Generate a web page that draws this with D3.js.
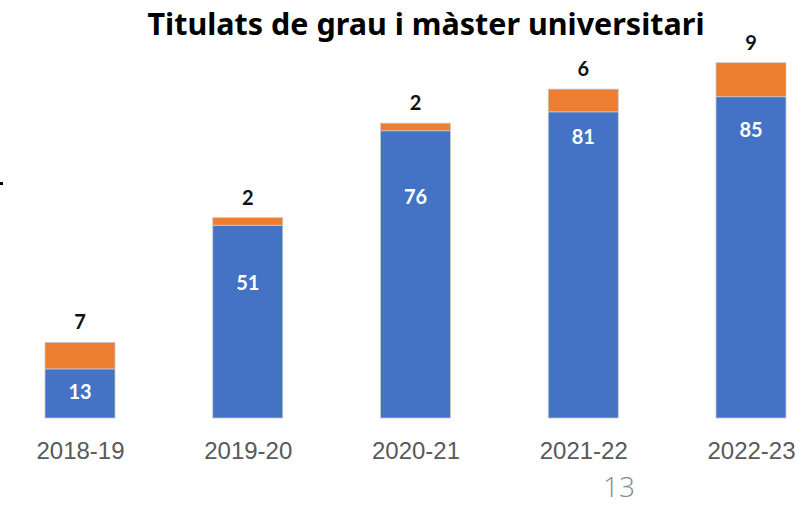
<!DOCTYPE html>
<html>
<head>
<meta charset="utf-8">
<script src="https://cdn.jsdelivr.net/npm/d3@7"></script>
<style>
  body { margin: 0; background: #fff; }
  svg { display: block; }
</style>
</head>
<body>
<div id="chart"></div>
<script>
// data
var courses = ["2018-19", "2019-20", "2020-21", "2021-22", "2022-23"];
var grau = [13, 51, 76, 81, 85];      // blue part
var master = [7, 2, 2, 6, 9];         // orange part
// where the white labels sit inside the blue bars (in value units)
var grauLabelAt = [7, 35.7, 58.5, 74.3, 76.2];

var width = 812, height = 505;
var baseline = 418;

var svg = d3.select("#chart").append("svg")
    .attr("width", width)
    .attr("height", height);

var x = d3.scalePoint()
    .domain(courses)
    .range([80, 751]);
var barW = 70;

// 85 units ~ 321px
var y = d3.scaleLinear()
    .domain([0, 100])
    .range([baseline, baseline - 378]);

var rows = courses.map(function(c, i) {
  return {course: c, grau: grau[i], master: master[i], at: grauLabelAt[i]};
});

// title
svg.append("text")
    .attr("x", 426)
    .attr("y", 35)
    .attr("text-anchor", "middle")
    .attr("textLength", 557)
    .attr("lengthAdjust", "spacingAndGlyphs")
    .style("font-family", "'Noto Sans', sans-serif")
    .style("font-weight", "bold")
    .style("font-size", "30px")
    .style("fill", "#000")
    .text("Titulats de grau i màster universitari");

var g = svg.selectAll("g.bar").data(rows).enter()
    .append("g").attr("class", "bar");

// blue
g.append("rect")
    .attr("x", function(d) { return x(d.course) - barW / 2; })
    .attr("y", function(d) { return y(d.grau); })
    .attr("width", barW)
    .attr("height", function(d) { return y(0) - y(d.grau); })
    .style("fill", "#4472C4")
    .style("stroke", "#c9c9c9")
    .style("stroke-width", 0.8);

// orange
g.append("rect")
    .attr("x", function(d) { return x(d.course) - barW / 2; })
    .attr("y", function(d) { return y(d.grau + d.master); })
    .attr("width", barW)
    .attr("height", function(d) { return y(d.grau) - y(d.grau + d.master); })
    .style("fill", "#ED7D31")
    .style("stroke", "#c9c9c9")
    .style("stroke-width", 0.8);

// labels inside blue
g.append("text")
    .attr("x", function(d) { return x(d.course); })
    .attr("y", function(d) { return y(d.at); })
    .attr("dy", "0.36em")
    .attr("text-anchor", "middle")
    .style("font-family", "Lato, 'Open Sans', sans-serif")
    .style("font-weight", "bold")
    .style("font-size", "20px")
    .style("fill", "#fff")
    .text(function(d) { return d.grau; });

// labels above
g.append("text")
    .attr("x", function(d) { return x(d.course); })
    .attr("y", function(d) { return y(d.grau + d.master) - 13; })
    .attr("text-anchor", "middle")
    .style("font-family", "Lato, 'Open Sans', sans-serif")
    .style("font-weight", "bold")
    .style("font-size", "20px")
    .style("fill", "#111")
    .text(function(d) { return d.master; });

// category axis, no line
var xAxis = svg.append("g")
    .attr("transform", "translate(0," + (baseline + 24) + ")")
    .call(d3.axisBottom(x).tickSize(0).tickPadding(0));
xAxis.select(".domain").remove();
xAxis.selectAll("text")
    .attr("dy", "0.71em")
    .style("font-family", "'Liberation Sans', Arial, sans-serif")
    .style("font-size", "24px")
    .style("fill", "#595959");

// page number
svg.append("text")
    .attr("x", 619)
    .attr("y", 497)
    .attr("text-anchor", "middle")
    .style("font-family", "'Open Sans', sans-serif")
    .style("font-weight", 300)
    .style("font-size", "28px")
    .style("fill", "#8a8a8a")
    .text("13");

// leftover mark at the left edge
svg.append("rect")
    .attr("x", 0).attr("y", 182)
    .attr("width", 3).attr("height", 3)
    .style("fill", "#000");
</script>
</body>
</html>
